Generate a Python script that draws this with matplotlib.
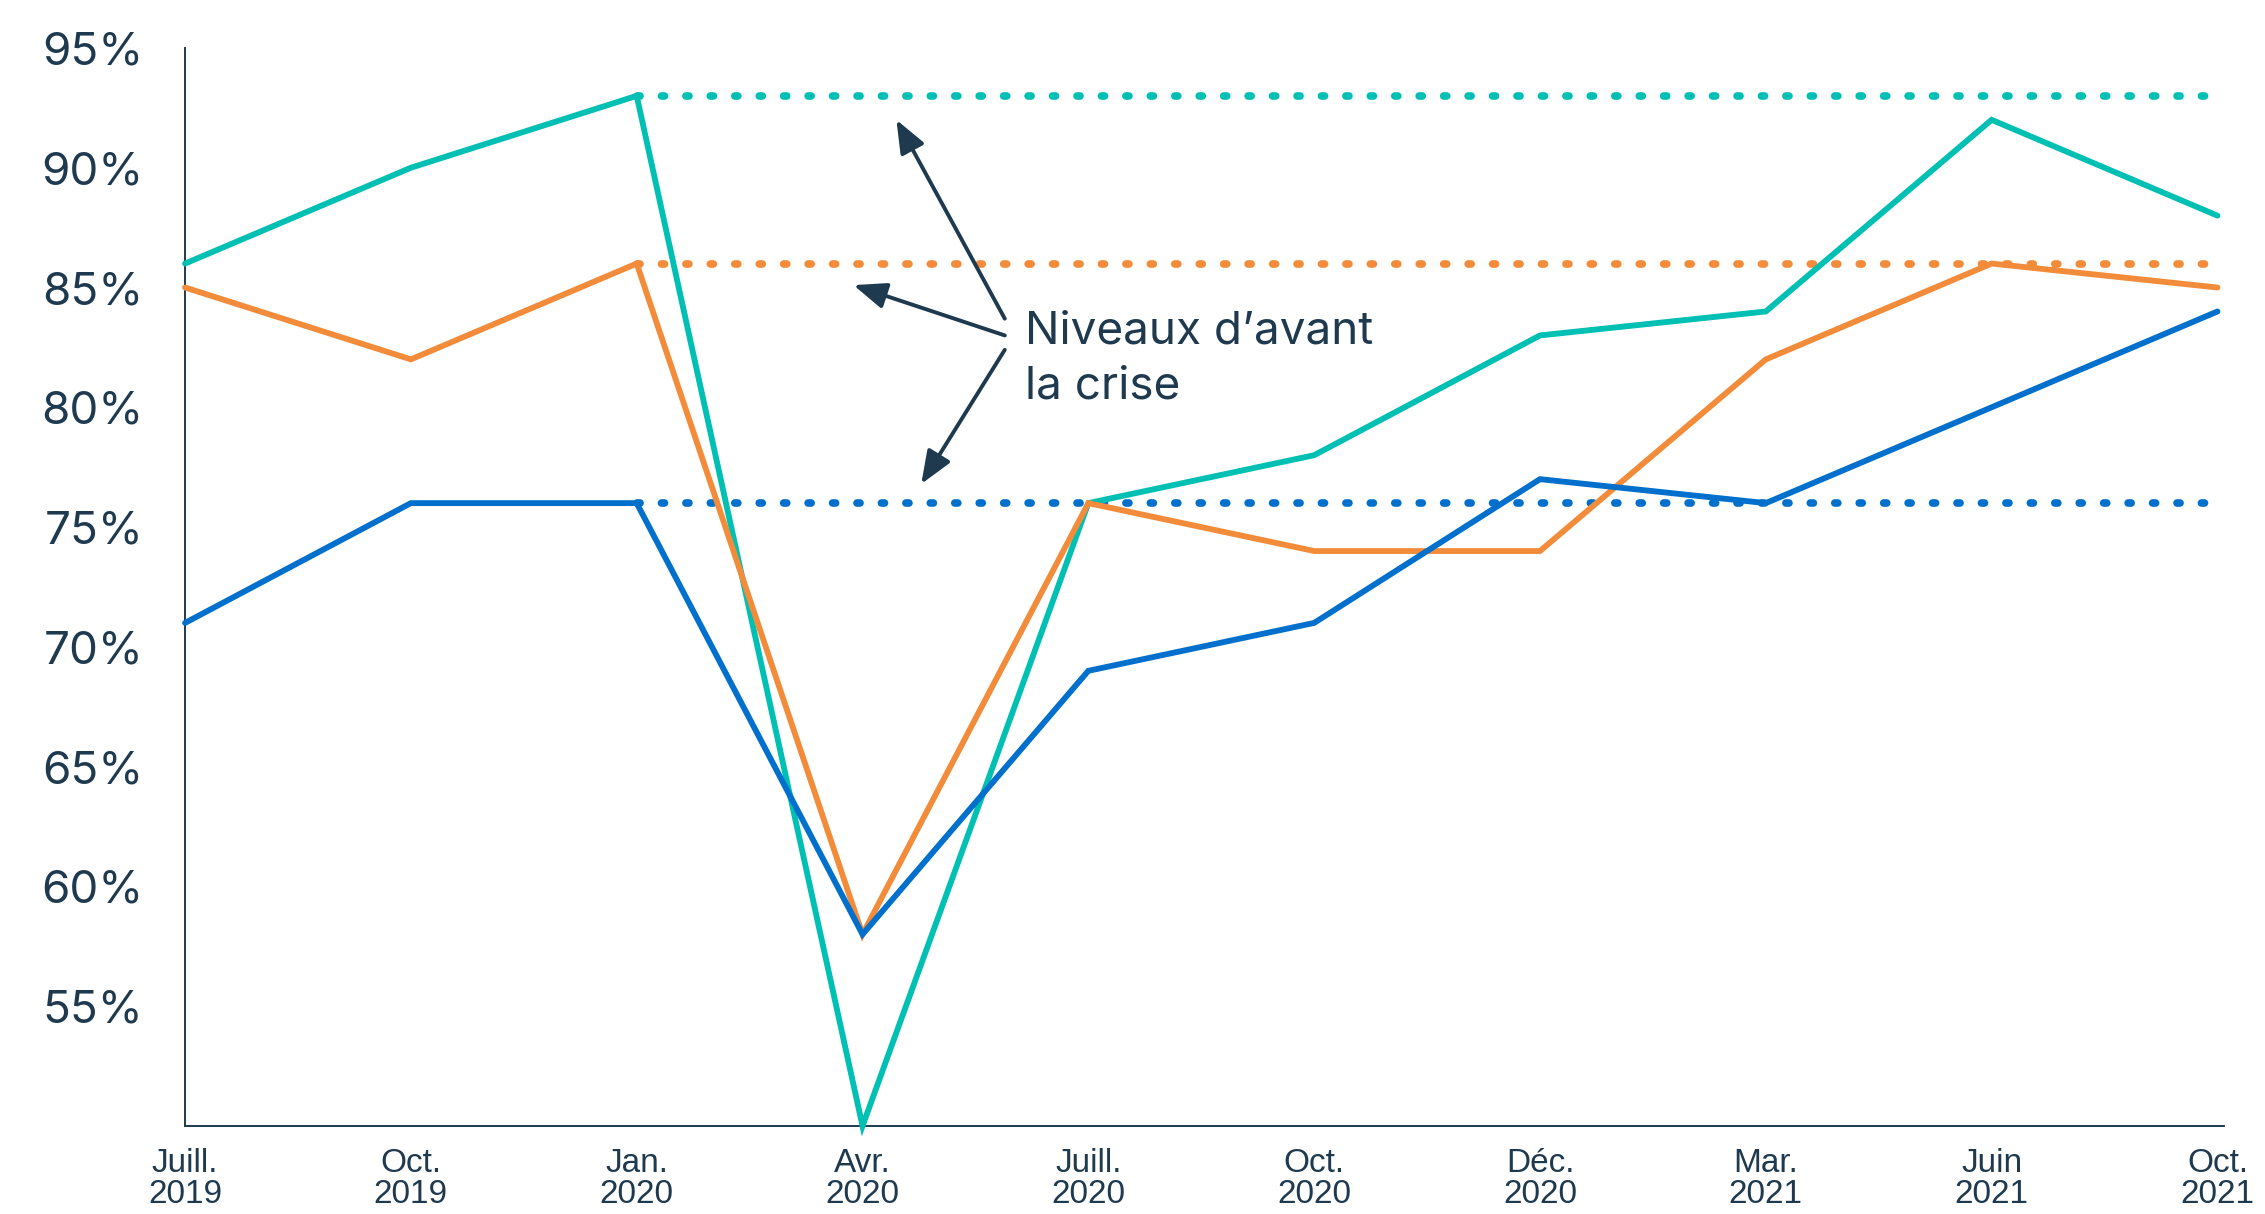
import matplotlib
matplotlib.use("Agg")
import matplotlib.pyplot as plt
from matplotlib import font_manager

# data
mois = ["Juill.\n2019", "Oct.\n2019", "Jan.\n2020", "Avr.\n2020", "Juill.\n2020",
        "Oct.\n2020", "Déc.\n2020", "Mar.\n2021", "Juin\n2021", "Oct.\n2021"]
serie_teal = [86, 90, 93, 50, 76, 78, 83, 84, 92, 88]
serie_orange = [85, 82, 86, 58, 76, 74, 74, 82, 86, 85]
serie_bleu = [71, 76, 76, 58, 69, 71, 77, 76, 80, 84]
niveaux_avant = [93, 86, 76]          # teal, orange, bleu
debut_niveaux = 2                     # Jan. 2020
y_ticks = [55, 60, 65, 70, 75, 80, 85, 90, 95]

TEAL = "#00BFB3"
ORANGE = "#F28C3A"
BLEU = "#0070CC"
NAVY = "#1F3A4F"

noms = {f.name for f in font_manager.fontManager.ttflist}
police_x = "Liberation Sans Narrow" if "Liberation Sans Narrow" in noms else "Liberation Sans"
plt.rcParams["font.family"] = ["Inter", "DejaVu Sans"]

fig = plt.figure(figsize=(22.65, 12.14), dpi=100)
ax = fig.add_axes([0.0817, 0.0725, 0.9003, 0.888])

x = list(range(len(mois)))
couleurs = [TEAL, ORANGE, BLEU]

# pre-crisis levels (dotted)
for niv, c in zip(niveaux_avant, couleurs):
    ax.plot([debut_niveaux, x[-1]], [niv, niv], color=c, lw=5.5,
            linestyle=(0, (0.4, 2.8)), dash_capstyle="round", zorder=2)

for serie, c in zip([serie_teal, serie_orange, serie_bleu], couleurs):
    ax.plot(x, serie, color=c, lw=4.2, solid_capstyle="round",
            solid_joinstyle="miter", clip_on=False, zorder=3)

ax.set_xlim(0, 9.03)
ax.set_ylim(50, 95)
ax.set_yticks(y_ticks)
ax.set_yticklabels([f"{v}%" for v in y_ticks])
ax.set_xticks(x)
ax.set_xticklabels(mois, fontfamily=police_x, linespacing=1.0)

ax.tick_params(axis="y", length=0, pad=30, labelsize=33, labelcolor=NAVY)
ax.tick_params(axis="x", length=0, pad=16, labelsize=24, labelcolor=NAVY)
for s in ["top", "right"]:
    ax.spines[s].set_visible(False)
for s in ["left", "bottom"]:
    ax.spines[s].set_color(NAVY)
    ax.spines[s].set_linewidth(1.4)

# annotation
ax.text(3.72, 82.0, "Niveaux d\u2019avant\nla crise", fontsize=33, color=NAVY,
        va="center", ha="left", linespacing=1.4)
fleche = dict(arrowstyle="-|>,head_length=2.0,head_width=0.8", color=NAVY, lw=2.8,
              shrinkA=0, shrinkB=0)
ax.annotate("", xy=(3.15, 92.0), xytext=(3.63, 83.7), arrowprops=fleche)
ax.annotate("", xy=(2.96, 85.1), xytext=(3.63, 83.0), arrowprops=fleche)
ax.annotate("", xy=(3.26, 76.8), xytext=(3.63, 82.4), arrowprops=fleche)

fig.savefig("out.png", dpi=100)
